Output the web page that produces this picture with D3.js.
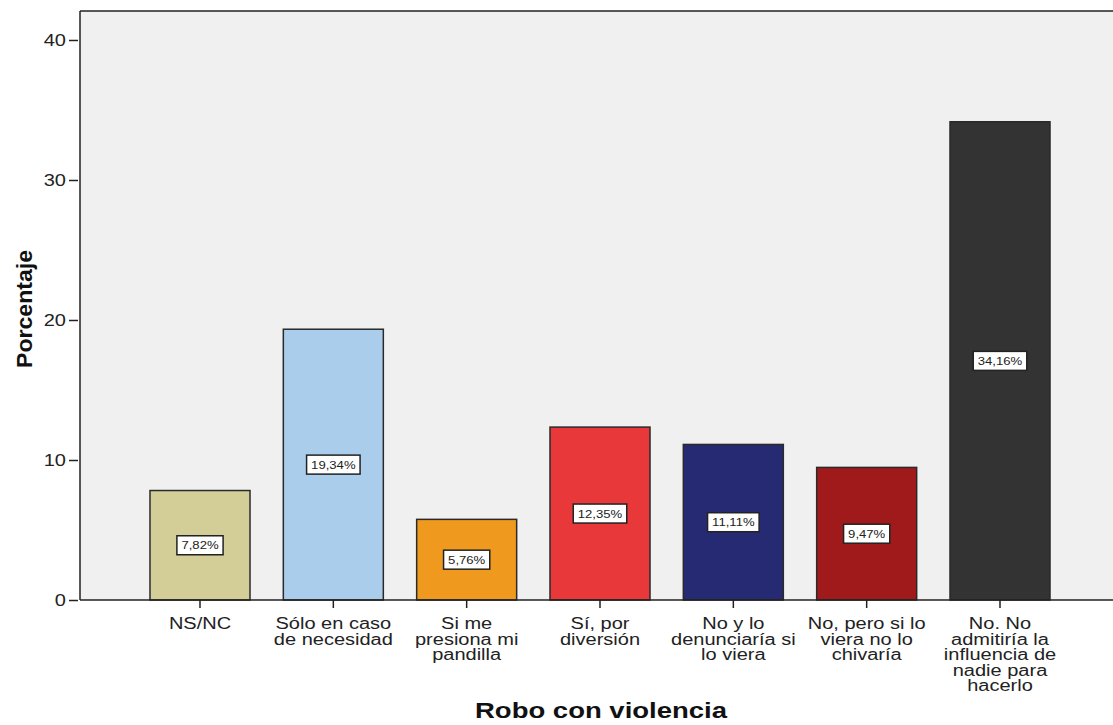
<!DOCTYPE html>
<html><head><meta charset="utf-8">
<script src="https://cdn.jsdelivr.net/npm/d3@7"></script>
<style>body{margin:0;background:#fff;} svg{display:block;font-family:"Liberation Sans",Arial,sans-serif;}</style>
</head><body>
<svg id="c" width="1113" height="725"></svg>
<script>
const categories = [
  ["NS/NC"],
  ["Sólo en caso","de necesidad"],
  ["Si me","presiona mi","pandilla"],
  ["Sí, por","diversión"],
  ["No y lo","denunciaría si","lo viera"],
  ["No, pero si lo","viera no lo","chivaría"],
  ["No. No","admitiría la","influencia de","nadie para","hacerlo"]
];
const values = [7.82, 19.34, 5.76, 12.35, 11.11, 9.47, 34.16];
const valueLabels = ["7,82%","19,34%","5,76%","12,35%","11,11%","9,47%","34,16%"];
const colors = ["#d3cd98","#abcdec","#f0991f","#e8383a","#262a72","#a01a1c","#333333"];
const yTicks = [0,10,20,30,40];

const svg = d3.select("#c");
const pLeft = 80, pRight = 1116, pTop = 11, pBottom = 600;
const SX = 1.25;
const keys = categories.map((c,i)=>i);
const x = d3.scaleBand().domain(keys).range([133.33,1066.67]).paddingInner(0.25).paddingOuter(0.125);
const y = d3.scaleLinear().domain([0,42.07]).range([pBottom, pTop]);

svg.append("rect").attr("x",pLeft).attr("y",pTop).attr("width",pRight-pLeft).attr("height",pBottom-pTop).attr("fill","#f0f0f0");

svg.selectAll("rect.bar").data(values).join("rect").attr("class","bar")
  .attr("x",(d,i)=>x(i)).attr("y",d=>y(d)).attr("width",x.bandwidth()).attr("height",d=>pBottom-y(d))
  .attr("fill",(d,i)=>colors[i]).attr("stroke","#2a2a2a").attr("stroke-width",1.5);

svg.append("line").attr("x1",pLeft).attr("x2",pRight).attr("y1",pTop).attr("y2",pTop).attr("stroke","#222").attr("stroke-width",1.5);

const ya = svg.append("g").attr("transform",`translate(${pLeft},0)`)
  .call(d3.axisLeft(y).tickValues(yTicks).tickSize(11).tickPadding(3).tickFormat(d3.format("d")));
ya.select(".domain").attr("d",`M0,${pTop}V${pBottom}`).attr("stroke","#222").attr("stroke-width",1.5);
ya.selectAll(".tick line").attr("x1",-2).attr("stroke","#222").attr("stroke-width",1.5);
ya.selectAll(".tick text").each(function(){
  const t = d3.select(this); const xx = +t.attr("x");
  t.attr("x",0).attr("transform",`translate(${xx},0) scale(${SX},1)`)
   .attr("font-size",16).attr("fill","#222").attr("font-family","Liberation Sans, Arial, sans-serif");
});

const xa = svg.append("g").attr("transform",`translate(0,${pBottom})`)
  .call(d3.axisBottom(x).tickSize(8).tickFormat(""));
xa.select(".domain").attr("d",`M${pLeft},0H${pRight}`).attr("stroke","#222").attr("stroke-width",1.5);
xa.selectAll(".tick line").attr("stroke","#222").attr("stroke-width",1.5);

const lab = svg.append("g");
categories.forEach((lines,i)=>{
  const cx = x(i)+x.bandwidth()/2;
  const t = lab.append("text").attr("transform",`translate(${cx},629) scale(${SX},1)`).attr("text-anchor","middle")
    .attr("font-size",16).attr("fill","#222");
  lines.forEach((l,j)=>t.append("tspan").attr("x",0).attr("y",j*15.6).text(l));
});

const vl = svg.append("g");
values.forEach((v,i)=>{
  const cx = x(i)+x.bandwidth()/2, cy = y(v/2);
  const t = vl.append("text").attr("transform",`translate(${cx},${cy+4}) scale(${SX},1)`).attr("text-anchor","middle")
    .attr("font-size",10.5).attr("fill","#222").text(valueLabels[i]);
  const w = t.node().getComputedTextLength()*SX+9;
  vl.insert("rect","text").attr("x",cx-w/2).attr("y",cy-9.5).attr("width",w).attr("height",19)
    .attr("fill","#fff").attr("stroke","#222").attr("stroke-width",1.5);
});

svg.append("text").attr("transform",`translate(601,718) scale(${SX},1)`).attr("text-anchor","middle").attr("font-size",22)
  .attr("font-weight","bold").attr("fill","#111").text("Robo con violencia");
svg.append("text").attr("transform","translate(32,309) rotate(-90) scale(1.215,1.2)").attr("text-anchor","middle")
  .attr("font-size",19).attr("font-weight","bold").attr("fill","#111").text("Porcentaje");
</script>
</body></html>
